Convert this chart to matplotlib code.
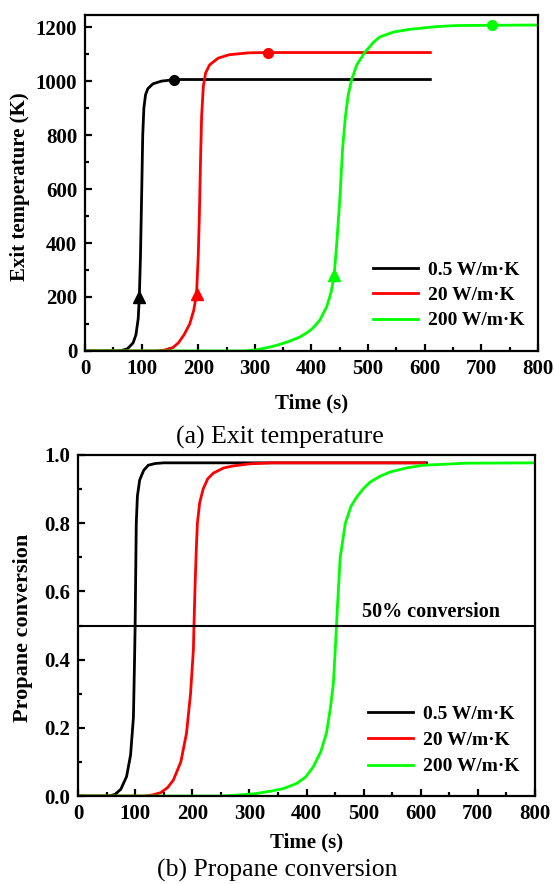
import numpy as np
import matplotlib
matplotlib.use("Agg")
import matplotlib.pyplot as plt
from matplotlib.ticker import MultipleLocator

plt.rcParams["font.family"] = ["Liberation Serif", "DejaVu Serif"]
plt.rcParams["font.weight"] = "bold"

labels = ["0.5 W/m\u00b7K", "20 W/m\u00b7K", "200 W/m\u00b7K"]
colors = ["#000000", "#ff0000", "#00ff00"]

# (a) exit temperature
t_black = [0, 55, 65, 75, 85, 90, 94, 96, 98, 100, 102, 104, 107, 111, 120, 135, 160, 610]
T_black = [0, 0, 2, 8, 30, 60, 120, 200, 350, 570, 800, 900, 950, 972, 990, 1000, 1006, 1006]
t_red = [0, 125, 140, 155, 165, 175, 185, 192, 197, 200, 202, 204, 206, 209, 213, 220, 235,
         255, 290, 323, 610]
T_red = [0, 0, 3, 12, 30, 60, 100, 150, 211, 350, 500, 700, 870, 980, 1030, 1060, 1085,
         1098, 1105, 1106, 1106]
t_green = [0, 280, 300, 330, 345, 360, 380, 390, 400, 407, 415, 421, 427, 435, 440, 444, 447,
           450, 455, 460, 465, 471, 480, 494, 510, 521, 545, 574, 620, 656, 718, 800]
T_green = [0, 0, 3, 16, 25, 35, 52, 65, 80, 95, 115, 140, 164, 220, 281, 380, 470,
           560, 750, 870, 950, 1006, 1060, 1106, 1145, 1164, 1182, 1192, 1202, 1206, 1207, 1208]

# markers on the temperature curves
tri_t = [96, 197, 440]
tri_T = [201, 211, 281]
dot_t = [157, 324, 718]
dot_T = [1006, 1106, 1207]

# (b) propane conversion
c_tb = [0, 55, 65, 75, 85, 92, 97, 99, 100, 101, 102, 104, 108, 115, 123, 135, 150, 610]
c_b = [0, 0, 0.005, 0.02, 0.057, 0.12, 0.23, 0.4, 0.5, 0.65, 0.8, 0.88, 0.927, 0.955, 0.97,
       0.975, 0.977, 0.977]
c_tr = [0, 115, 130, 145, 157, 167, 180, 190, 197, 202, 203, 205, 207, 209, 213, 219, 227,
        237, 255, 272, 300, 340, 607]
c_r = [0, 0, 0.003, 0.01, 0.025, 0.047, 0.1, 0.185, 0.3, 0.43, 0.5, 0.62, 0.72, 0.8, 0.86,
       0.9, 0.93, 0.947, 0.962, 0.968, 0.974, 0.977, 0.977]
c_tg = [0, 250, 280, 310, 340, 360, 383, 398, 412, 425, 435, 442, 447, 451, 454, 459, 468,
        478, 488, 500, 511, 528, 546, 575, 604, 680, 800]
c_g = [0, 0, 0.003, 0.007, 0.015, 0.022, 0.037, 0.055, 0.086, 0.13, 0.185, 0.26, 0.33, 0.45,
       0.55, 0.7, 0.8, 0.85, 0.877, 0.902, 0.92, 0.937, 0.95, 0.962, 0.97, 0.976, 0.977]


def style_axes(ax):
    for sp in ax.spines.values():
        sp.set_linewidth(1.6)
    ax.tick_params(which="both", direction="in", top=False, right=False, width=1.6,
                   labelsize=15, pad=5.5)
    ax.tick_params(which="major", length=5)
    ax.tick_params(which="minor", length=3)
    for lab in ax.get_xticklabels() + ax.get_yticklabels():
        lab.set_fontweight("bold")


fig = plt.figure(figsize=(5.54, 8.84), dpi=100)

# top panel
ax1 = fig.add_axes([0.1534, 0.603, 0.8176, 0.380])
for t, T, c, lab in zip([t_black, t_red, t_green], [T_black, T_red, T_green], colors, labels):
    ax1.plot(t, T, color=c, lw=2, label=lab)
for i in range(3):
    ax1.plot(tri_t[i], tri_T[i], marker="^", color=colors[i], ms=8, ls="none")
    ax1.plot(dot_t[i], dot_T[i], marker="o", color=colors[i], ms=7, ls="none")
ax1.set_xlim(0, 800)
ax1.set_ylim(0, 1245)
ax1.xaxis.set_major_locator(MultipleLocator(100))
ax1.xaxis.set_minor_locator(MultipleLocator(50))
ax1.yaxis.set_major_locator(MultipleLocator(200))
ax1.yaxis.set_minor_locator(MultipleLocator(100))
ax1.set_xlabel("Time (s)", fontsize=15, fontweight="bold", va="center")
ax1.xaxis.set_label_coords(0.5, -0.155)
ax1.set_ylabel("Exit temperature (K)", fontsize=15, fontweight="bold", va="center")
ax1.yaxis.set_label_coords(-0.1435, 0.49)
style_axes(ax1)
ax1.legend(loc="upper left", bbox_to_anchor=(0.636, 0.268), frameon=False,
           prop={"size": 14, "weight": "bold"}, handlelength=2.3, handletextpad=0.5,
           labelspacing=0.4, borderpad=0, borderaxespad=0)
fig.text(0.505, 1 - 437 / 884, "(a) Exit temperature", ha="center", va="center",
         fontsize=18.5, fontweight="normal")

# bottom panel
ax2 = fig.add_axes([0.1408, 0.0995, 0.8249, 0.3858])
for t, c_, c, lab in zip([c_tb, c_tr, c_tg], [c_b, c_r, c_g], colors, labels):
    ax2.plot(t, c_, color=c, lw=2, label=lab)
ax2.axhline(0.5, color="black", lw=1.5)
ax2.text(618, 0.54, "50% conversion", ha="center", va="center", fontsize=14.5,
         fontweight="bold")
ax2.set_xlim(0, 800)
ax2.set_ylim(0, 1.0)
ax2.xaxis.set_major_locator(MultipleLocator(100))
ax2.xaxis.set_minor_locator(MultipleLocator(50))
ax2.yaxis.set_major_locator(MultipleLocator(0.2))
ax2.yaxis.set_minor_locator(MultipleLocator(0.1))
ax2.set_xlabel("Time (s)", fontsize=15, fontweight="bold", va="center")
ax2.xaxis.set_label_coords(0.5, -0.135)
ax2.set_ylabel("Propane conversion", fontsize=16, fontweight="bold", va="center")
ax2.yaxis.set_label_coords(-0.12, 0.494)
style_axes(ax2)
ax2.legend(loc="upper left", bbox_to_anchor=(0.635, 0.267), frameon=False,
           prop={"size": 14, "weight": "bold"}, handlelength=2.3, handletextpad=0.5,
           labelspacing=0.45, borderpad=0, borderaxespad=0)
fig.text(0.5, 1 - 870 / 884, "(b) Propane conversion", ha="center", va="center",
         fontsize=18.5, fontweight="normal")

fig.savefig("out.png", dpi=100)
